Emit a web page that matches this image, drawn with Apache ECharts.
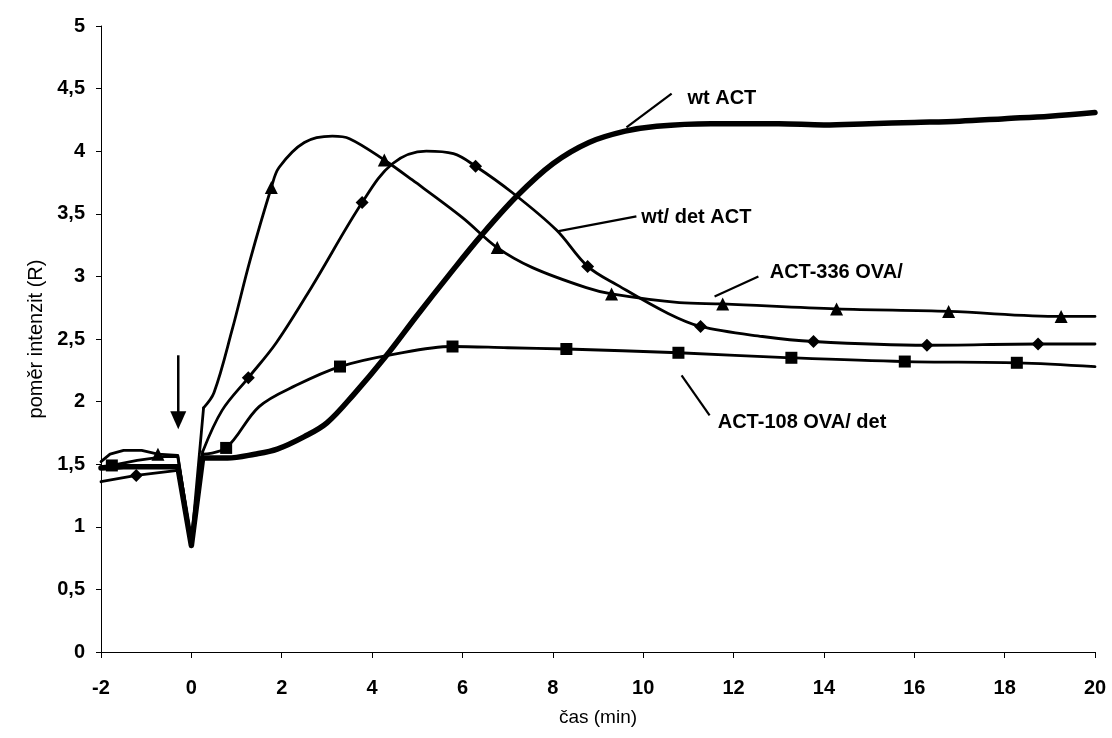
<!DOCTYPE html>
<html>
<head>
<meta charset="utf-8">
<script src="https://cdn.jsdelivr.net/npm/echarts@6/dist/echarts.min.js"></script>
<style>
  html, body { margin: 0; padding: 0; background: #fff; }
  #chart { width: 1112px; height: 738px; }
</style>
</head>
<body>
<div id="chart"></div>
<script>
// Axis ticks
const xTicks = [-2, 0, 2, 4, 6, 8, 10, 12, 14, 16, 18, 20];
const yTickLabels = ['0', '0,5', '1', '1,5', '2', '2,5', '3', '3,5', '4', '4,5', '5'];

// wt ACT (thick curve, no markers)
const wtActCurve = [
  [-2, 1.47], [-1.5, 1.48], [-1, 1.48], [-0.3, 1.48], [0, 0.85], [0.25, 1.55],
  [0.8, 1.55], [1.4, 1.58], [1.9, 1.62], [2.5, 1.72], [3.0, 1.83], [3.6, 2.06],
  [4.3, 2.36], [5.0, 2.69], [5.7, 3.01], [6.4, 3.32], [7.2, 3.64], [8.0, 3.9],
  [8.8, 4.07], [9.6, 4.16], [10.3, 4.2], [11.5, 4.22], [13, 4.22], [14, 4.21],
  [15, 4.22], [16, 4.23], [17, 4.24], [18, 4.26], [19, 4.28], [20, 4.31]
];
const wtActMarks = [];

// wt/ det ACT (diamonds)
const wtDetCurve = [
  [-2, 1.36], [-0.3, 1.45], [0, 0.87], [0.25, 1.6], [0.68, 1.93], [1.88, 2.47],
  [2.67, 2.92], [4.45, 3.9], [5.2, 4.0], [5.8, 3.98], [7.1, 3.67], [8.08, 3.37],
  [9.48, 2.92], [10.52, 2.71], [12.64, 2.52], [20, 2.46]
];
const wtDetMarks = [
  [-1.22, 1.41], [1.26, 2.19], [3.78, 3.59], [6.29, 3.88], [8.77, 3.08],
  [11.27, 2.6], [13.77, 2.48], [16.28, 2.45], [18.74, 2.46]
];

// ACT-336 OVA/ (triangles)
const act336Curve = [
  [-2, 1.52], [-1.8, 1.58], [-1.5, 1.61], [-1.1, 1.61], [-0.3, 1.57], [0, 0.87],
  [0.27, 1.95], [0.5, 2.07], [0.9, 2.57], [1.3, 3.13], [1.94, 3.87], [2.5, 4.07],
  [3.12, 4.12], [3.5, 4.1], [4.89, 3.77], [6.0, 3.47], [7.55, 3.07], [8.74, 2.91],
  [10.8, 2.79], [20, 2.68]
];
const act336Marks = [
  [-0.74, 1.58], [1.77, 3.71], [4.27, 3.93], [6.77, 3.23], [9.3, 2.86],
  [11.76, 2.78], [14.28, 2.74], [16.76, 2.72], [19.25, 2.68]
];

// ACT-108 OVA/ det (squares)
const act108Curve = [
  [-2, 1.48], [-1.2, 1.53], [-0.6, 1.56], [-0.3, 1.56], [0, 0.87], [0.25, 1.58],
  [1.5, 1.96], [2.32, 2.13], [4.5, 2.38], [7, 2.43], [20, 2.28]
];
const act108Marks = [
  [-1.76, 1.49], [0.77, 1.63], [3.29, 2.28], [5.78, 2.44], [8.3, 2.42],
  [10.78, 2.39], [13.28, 2.35], [15.79, 2.32], [18.27, 2.31]
];

// Callout labels: [text, leader start (on curve), leader end, text anchor]
const callouts = [
  ['wt ACT',           [9.63, 4.19],  [10.63, 4.46], [10.98, 4.42]],
  ['wt/ det ACT',      [8.10, 3.36],  [9.85, 3.48],  [9.96, 3.47]],
  ['ACT-336 OVA/',     [11.58, 2.84], [12.55, 3.0],  [12.8, 3.03]],
  ['ACT-108 OVA/ det', [10.85, 2.21], [11.47, 1.89], [11.65, 1.83]]
];
// Stimulus arrow: x, top y, tip y
const arrowAt = [-0.29, 2.37, 1.78];

const FONT = '"Liberation Sans", Arial, sans-serif';

function mergePoints(curve, marks, symbol) {
  const pts = curve.map(p => ({ value: p, symbol: 'none' }))
    .concat(marks.map(p => ({ value: p, symbol: symbol })));
  pts.sort((a, b) => a.value[0] - b.value[0]);
  return pts;
}

// Each trace: a straight-segment part up to the recovery after the dip at t = 0,
// then a smoothed part for the response.
function traceSeries(name, curve, marks, symbol, size, width) {
  const pts = mergePoints(curve, marks, symbol);
  const dip = pts.findIndex(p => p.value[0] === 0);
  const base = {
    name: name,
    type: 'line',
    showAllSymbol: true,
    symbolSize: size,
    lineStyle: { color: '#000', width: width, cap: 'round', join: 'round' },
    itemStyle: { color: '#000', borderWidth: 0 },
    emphasis: { disabled: true },
    z: width > 3 ? 3 : 2
  };
  return [
    Object.assign({}, base, { data: pts.slice(0, dip + 2), smooth: false }),
    Object.assign({}, base, { data: pts.slice(dip + 1), smooth: 0.35 })
  ];
}

const chart = echarts.init(document.getElementById('chart'), null, { renderer: 'canvas' });

chart.setOption({
  animation: false,
  backgroundColor: '#fff',
  grid: { left: 101, right: 17, top: 26, bottom: 86, containLabel: false },
  xAxis: {
    type: 'value', min: xTicks[0], max: xTicks[xTicks.length - 1], interval: 2,
    name: 'čas (min)', nameLocation: 'middle', nameGap: 56,
    nameTextStyle: { fontFamily: FONT, fontSize: 19, color: '#000' },
    axisLine: { onZero: false, lineStyle: { color: '#000', width: 1 } },
    axisTick: { inside: false, length: 6, lineStyle: { color: '#000' } },
    axisLabel: { fontFamily: FONT, fontSize: 20, fontWeight: 'bold', color: '#000', margin: 26 },
    splitLine: { show: false }
  },
  yAxis: {
    type: 'value', min: 0, max: 5, interval: 0.5,
    name: 'poměr intenzit (R)', nameLocation: 'middle', nameGap: 54,
    nameTextStyle: { fontFamily: FONT, fontSize: 20, color: '#000' },
    axisLine: { show: true, onZero: false, lineStyle: { color: '#000', width: 1 } },
    axisTick: { show: true, inside: false, length: 5, lineStyle: { color: '#000' } },
    axisLabel: {
      fontFamily: FONT, fontSize: 20, fontWeight: 'bold', color: '#000', margin: 16,
      formatter: v => yTickLabels[Math.round(v * 2)]
    },
    splitLine: { show: false }
  },
  series: [].concat(
    traceSeries('ACT-108 OVA/ det', act108Curve, act108Marks, 'rect', 12, 2.8),
    traceSeries('ACT-336 OVA/', act336Curve, act336Marks, 'triangle', 13, 2.8),
    traceSeries('wt/ det ACT', wtDetCurve, wtDetMarks, 'diamond', 13, 2.8),
    traceSeries('wt ACT', wtActCurve, wtActMarks, 'none', 1, 5.5)
  )
});

// Callouts and arrow placed in data coordinates
const px = p => chart.convertToPixel({ gridIndex: 0 }, p);
const elements = [];
callouts.forEach(([text, a, b, t]) => {
  const pa = px(a), pb = px(b), pt = px(t);
  elements.push({
    type: 'line', shape: { x1: pa[0], y1: pa[1], x2: pb[0], y2: pb[1] },
    style: { stroke: '#000', lineWidth: 2.2 }, z: 10
  });
  elements.push({
    type: 'text', x: pt[0], y: pt[1],
    style: { text: text, font: 'bold 20px ' + FONT, fill: '#000', textVerticalAlign: 'middle', textAlign: 'left' },
    z: 10
  });
});
const aTop = px([arrowAt[0], arrowAt[1]]), aTip = px([arrowAt[0], arrowAt[2]]);
elements.push({
  type: 'line', shape: { x1: aTop[0], y1: aTop[1], x2: aTip[0], y2: aTip[1] - 10 },
  style: { stroke: '#000', lineWidth: 2.5 }, z: 10
});
elements.push({
  type: 'polygon', shape: { points: [[aTip[0] - 8, aTip[1] - 18], [aTip[0] + 8, aTip[1] - 18], [aTip[0], aTip[1]]] },
  style: { fill: '#000' }, z: 10
});
chart.setOption({ graphic: { elements: elements } });
</script>
</body>
</html>
